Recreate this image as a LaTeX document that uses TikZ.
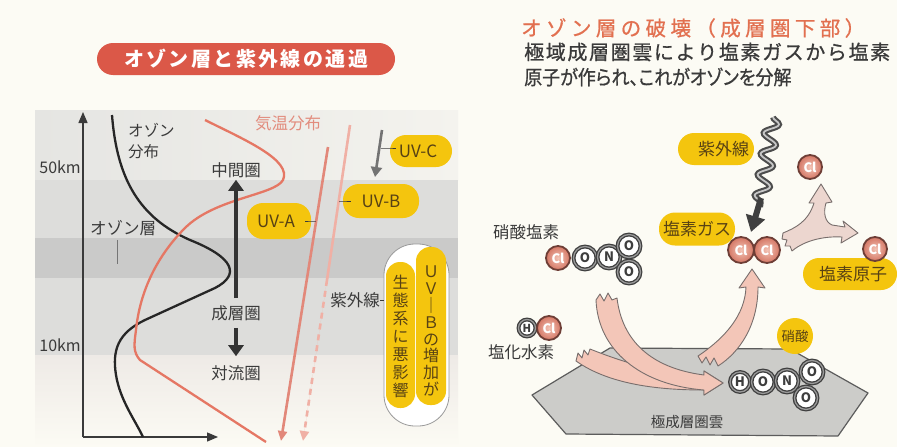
\documentclass[tikz,border=0pt]{standalone}
\usepackage{graphicx}
\usepackage{fontspec}
\newfontfamily\jp{Noto Sans CJK JP}
\newfontfamily\jpp[RawFeature=+palt]{Noto Sans CJK JP}
\newfontfamily\jpm[FakeBold=0.8]{Noto Sans CJK JP}
\usetikzlibrary{arrows.meta,decorations.pathmorphing}
\newcommand\fsz[1]{\fontsize{#1}{#1}\selectfont}
\newcommand\spreadto[2]{\makebox[#1][s]{#2}}

\definecolor{paper}{RGB}{252,251,244}
\definecolor{ink}{RGB}{58,58,58}
\definecolor{pill}{RGB}{244,197,14}
\definecolor{pilltext}{RGB}{88,66,20}
\definecolor{titlered}{RGB}{219,88,72}
\definecolor{tempred}{RGB}{229,119,100}
\definecolor{templabel}{RGB}{226,140,125}
\definecolor{uvdark}{RGB}{226,136,122}
\definecolor{uvlight}{RGB}{240,176,165}
\definecolor{hdr}{RGB}{226,112,80}
\definecolor{clin}{RGB}{243,196,182}
\definecolor{clout}{RGB}{212,118,100}
\definecolor{cledge}{RGB}{110,62,54}
\definecolor{atomedge}{RGB}{62,62,62}
\definecolor{flow}{RGB}{243,198,184}
\definecolor{flowedge}{RGB}{120,110,108}
\definecolor{fork}{RGB}{236,214,207}
\definecolor{cloud}{RGB}{204,204,201}
\definecolor{cloudedge}{RGB}{92,92,92}
\definecolor{topL}{RGB}{229,229,226}
\definecolor{topR}{RGB}{244,243,238}
\definecolor{bandA}{RGB}{221,221,219}
\definecolor{bandB}{RGB}{202,202,201}
\definecolor{lowband}{RGB}{238,234,230}

\begin{document}
\begin{tikzpicture}[x=1pt,y=-1pt,
  every node/.style={inner sep=0pt, text=ink, font=\jp},
  tag/.style={font=\jp\fsz{16.5}},
  pillbox/.style={fill=pill, rounded corners=16pt, minimum height=32pt, text=pilltext, font=\jp\fsz{17}},
  titlepill/.style={fill=titlered, rounded corners=16pt, minimum width=298pt, minimum height=32pt, text=white, font=\jp\bfseries\fsz{20}},
  tickline/.style={draw=ink, line width=1pt},
  axis/.style={draw=ink, line width=1.3pt, -{Triangle[length=11pt,width=9pt]}},
  ozone/.style={draw=black!85, line width=2.3pt},
  temp/.style={draw=tempred, line width=2.3pt},
  layerarrow/.style={draw=black!80, line width=4.5pt, -{Triangle[length=11pt,width=15pt]}},
  uvray/.style={line width=2.6pt, -{Triangle[length=10pt,width=9pt]}},
  clatom/.style={circle, minimum size=24pt, draw=cledge, line width=1.8pt, inner color=clin, outer color=clout, text=white, font=\jp\bfseries\fsz{13}},
  oatom/.style={circle, minimum size=23pt, fill=white, draw=atomedge, line width=1.3pt, double=black!40, double distance=1.3pt, text=atomedge, font=\jp\bfseries\fsz{13}},
  flowarrow/.style={fill=flow, draw=flowedge, line width=0.9pt, line join=round},
  forkarrow/.style={fill=fork, draw=flowedge, line width=0.9pt, line join=round},
  helix/.style={decorate, decoration={snake, amplitude=7pt, segment length=21pt}},
]
\useasboundingbox (0,0) rectangle (897,447);
\fill[paper] (0,0) rectangle (897,447);

% ---------- left panel: layers of the atmosphere
\shade[left color=topL, right color=topR] (35,110) rectangle (458,180);
\fill[bandA] (35,180) rectangle (458,238);
\fill[bandB] (35,238) rectangle (458,278);
\fill[bandA] (35,278) rectangle (458,355);
\shade[top color=lowband, bottom color=paper] (35,355) rectangle (458,447);

\node[titlepill] (ttl) at (246,59) {\spreadto{244pt}{オ\hfil ゾ\hfil ン\hfil 層\hfil と\hfil 紫\hfil 外\hfil 線\hfil の\hfil 通\hfil 過}};

% axes
\coordinate (origin) at (83,437);
\coordinate (ytop) at (83,112);
\coordinate (xend) at (218,437);
\draw[axis] (origin) -- (ytop);
\draw[axis] (origin) -- (xend);
\node[tag, anchor=east, font=\jp\fsz{16}] (k50) at (81,167) {50km};
\node[tag, anchor=east, font=\jp\fsz{16}] (k10) at (81,345) {10km};

% ozone profile
\draw[ozone] (112,115) .. controls (117,180) and (140,218) .. (190,240)
  .. controls (235,258) and (240,275) .. (215,288) -- (145,320)
  .. controls (118,333) and (112,350) .. (116,375)
  .. controls (120,400) and (135,420) .. (143,437);
\node[tag, align=left, anchor=north west, font=\jp\fontsize{15.5}{21}\selectfont] (ozdist) at (128,123) {オゾン\\分布};
\node[tag] (ozlayer) at (123,228) {オゾン層};
\draw[draw=ink!70, line width=0.7pt] ([xshift=-6pt,yshift=-4pt]ozlayer.south) -- ++(0,24);

% temperature profile
\draw[temp] (205,120) .. controls (245,140) and (292,160) .. (283,180)
  .. controls (275,195) and (215,198) .. (185,228)
  .. controls (158,255) and (140,290) .. (136,330)
  .. controls (134,345) and (133,352) .. (140,360) -- (266,442);
\node[tag, text=templabel] (tlab) at (288,123) {気温分布};

% layer names
\node[tag] (meso) at (236,170) {中間圏};
\node[tag] (strato) at (236,313) {成層圏};
\node[tag] (tropo) at (236,373) {対流圏};
\draw[layerarrow] ([yshift=7pt]strato.north) -- ([yshift=-2pt]meso.south);
\draw[layerarrow] ([yshift=-7pt]strato.south) -- ([yshift=9pt]tropo.north);

% ultraviolet rays
\coordinate (uva0) at (328,147);
\coordinate (uva1) at (281,441);
\coordinate (uvb0) at (350,125);
\coordinate (uvbm) at (327,280);
\coordinate (uvb1) at (303,441);
\coordinate (uvc0) at (382,130);
\coordinate (uvc1) at (375,177);
\draw[uvray, draw=uvdark, fill=uvdark] (uva0) -- (uva1);
\draw[draw=uvlight, line width=2.6pt] (uvb0) -- (uvbm);
\draw[uvray, draw=uvlight, fill=uvlight, dash pattern=on 6pt off 5pt] (uvbm) -- (uvb1);
\draw[line width=2.6pt, draw=black!55, -{Triangle[length=10pt,width=11pt]}] (uvc0) -- (uvc1);

\node[pillbox, minimum width=62pt] (pc) at (421,151) {\hspace*{-6pt}UV-C};
\node[pillbox, minimum width=76pt, minimum height=34pt] (pb) at (381,201) {UV-B};
\node[pillbox, minimum width=64pt, minimum height=36pt] (pa) at (279,221) {\hspace*{-6pt}UV-A};
\coordinate (tc) at (381,148);
\coordinate (tb) at (339,201);
\coordinate (ta) at (316,221);
\draw[tickline] (tc) -- (tc -| pc.west) -- ++(6,0);
\draw[tickline] (tb) -- (tb -| pb.west) -- ++(8,0);
\draw[tickline] (ta) -- (ta -| pa.east) -- ++(-6,0);

% UV-B warning block
\node[draw=black!40, fill=white, line width=0.8pt, rounded corners=31pt, minimum width=65pt, minimum height=182pt] (ublk) at (416.5,335) {};
\node[fill=pill, rounded corners=14pt, minimum width=29pt, minimum height=146pt] (ylL) at (400.5,335) {};
\node[fill=pill, rounded corners=14pt, minimum width=30pt, minimum height=158pt] (ylR) at (431,326) {};
\node[font=\jp\fontsize{16}{16.9}\selectfont, align=center, text=pilltext] (colR) at (431,331) {Ｕ\\Ｖ\\｜\\Ｂ\\の\\増\\加\\が};
\node[font=\jp\fontsize{16}{18}\selectfont, align=center, text=pilltext] (colL) at (400.5,336) {生\\態\\系\\に\\悪\\影\\響};
\node[tag] (uvlab) at (355,300) {紫外線};
\draw[tickline] (uvlab.east) -- (uvlab.east -| ublk.west);

% ---------- right panel: ozone destruction
\node[anchor=west, text=hdr, font=\jpm\fsz{20.5}] (rhead) at (521,28) {\spreadto{344pt}{オ\hfil ゾ\hfil ン\hfil 層\hfil の\hfil 破\hfil 壊\hfil （\hfil 成\hfil 層\hfil 圏\hfil 下\hfil 部\hfil ）}};
\node[anchor=west, font=\jpm\fsz{20}] (rsub1) at (524,52) {\spreadto{366pt}{極\hfil 域\hfil 成\hfil 層\hfil 圏\hfil 雲\hfil に\hfil よ\hfil り\hfil 塩\hfil 素\hfil ガ\hfil ス\hfil か\hfil ら\hfil 塩\hfil 素}};
\node[anchor=west, font=\jpm\fsz{20}] (rsub2) at (524,77) {\scalebox{0.9}[1]{\jpp\addfontfeature{FakeBold=0.8}原子が作られ、これがオゾンを分解}};

% polar stratospheric cloud
\draw[fill=cloud, draw=cloudedge, line width=1.2pt, line join=round]
  (532,395) -- (610,348) -- (790,349) -- (868,393) -- (838,436) -- (566,434) -- cycle;
\node[font=\jp\fsz{14.5}] (psc) at (687,422) {極成層圏雲};

% nitric acid label
\node[circle, fill=pill, minimum size=36pt, font=\jp\fsz{13.5}, text=pilltext] (hno3) at (795,336) {硝酸};

% flows into the cloud
\draw[flowarrow] (590,349) .. controls (630,365) and (665,374) .. (704,376)
  -- (704,371) -- (723,383) -- (704,395) -- (704,390)
  .. controls (660,390) and (610,385) .. (576,361)
  -- (578,353) -- (582,358) -- (584,350) -- (588,355) -- cycle;
\draw[flowarrow] (617,298) .. controls (622,340) and (650,368) .. (704,375)
  -- (704,371) -- (723,383) -- (704,395) -- (704,390)
  .. controls (640,385) and (598,350) .. (596,300)
  -- (600,294) -- (604,301) -- (608,293) -- (612,300) -- cycle;
% flow out of the cloud
\draw[flowarrow] (698,356) .. controls (725,338) and (745,315) .. (746,287)
  -- (739,288) -- (752,269) -- (765,288) -- (758,287)
  .. controls (758,325) and (740,352) .. (718,366)
  -- (714,358) -- (710,365) -- (706,357) -- (702,363) -- cycle;

% HONO2 on the cloud
\node[oatom, minimum size=20pt] (hH) at (740,382) {H};
\node[oatom] (hO) at (763,382) {O};
\node[oatom] (hN) at (787,381) {N};
\node[oatom] (hO3) at (806,398) {O};
\node[oatom] (hO2) at (812,372) {O};

% ClONO2
\node[tag] (clono) at (526,232) {硝酸塩素};
\node[clatom] (cCl) at (558,258) {Cl};
\node[oatom] (cO) at (585,258) {O};
\node[oatom] (cN) at (609,257) {N};
\node[oatom] (cO3) at (629,272) {O};
\node[oatom] (cO2) at (629,246) {O};

% HCl
\node[oatom, minimum size=17pt, font=\jp\bfseries\fsz{11}] (xH) at (527,328) {H};
\node[clatom] (xCl) at (549,328) {Cl};
\node[tag] (hcl) at (521,352) {塩化水素};

% ultraviolet light and chlorine
\node[pillbox, minimum width=76pt, text width=66pt, align=right] (uvr) at (716,149) {紫外線};
\draw[helix, draw=black!70, line width=6pt] (773,117) -- (760,207);
\draw[helix, draw=black!22, line width=1.8pt] (773,117) -- (760,207);
\draw[draw=black!75, line width=6pt, -{Triangle[length=16pt,width=19pt]}] (761,198) -- (751,232);

\node[pillbox, minimum width=76pt, minimum height=33pt] (cl2lab) at (697,229) {塩素ガス};
\node[clatom, minimum size=26pt] (cla) at (741,250) {Cl};
\node[clatom, minimum size=26pt] (clb) at (767,250) {Cl};

\node[pillbox, minimum width=94pt] (atomlab) at (850,274) {\hspace*{6pt}塩素原子};
\draw[forkarrow] (783,233) .. controls (795,228) and (808,222) .. (814,203)
  -- (809,203) -- (821,184) -- (832,202) -- (826,203)
  .. controls (823,213) and (825,222) .. (832,225)
  -- (845,227) -- (843,221) -- (858,233) -- (841,243) -- (842,237)
  .. controls (825,236) and (805,240) .. (792,251)
  -- (790,246) -- (785,246) -- (787,240) -- (782,239) -- cycle;
\node[clatom] (clt) at (810,167) {Cl};
\node[clatom] (clr) at (875,249) {Cl};
\end{tikzpicture}
\end{document}
